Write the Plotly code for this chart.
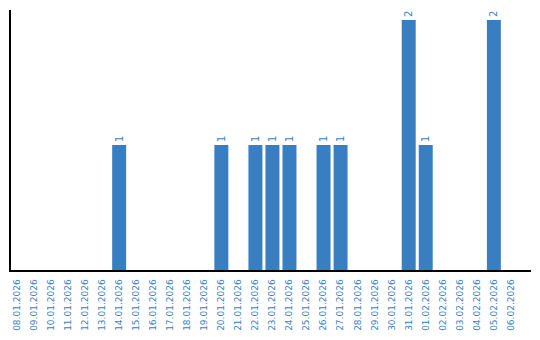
import plotly.graph_objects as go

dates = ["08.01.2026", "09.01.2026", "10.01.2026", "11.01.2026", "12.01.2026",
         "13.01.2026", "14.01.2026", "15.01.2026", "16.01.2026", "17.01.2026",
         "18.01.2026", "19.01.2026", "20.01.2026", "21.01.2026", "22.01.2026",
         "23.01.2026", "24.01.2026", "25.01.2026", "26.01.2026", "27.01.2026",
         "28.01.2026", "29.01.2026", "30.01.2026", "31.01.2026", "01.02.2026",
         "02.02.2026", "03.02.2026", "04.02.2026", "05.02.2026", "06.02.2026"]
counts = [0, 0, 0, 0, 0, 0, 1, 0, 0, 0, 0, 0, 1, 0, 1, 1, 1, 0, 1, 1,
          0, 0, 0, 2, 1, 0, 0, 0, 2, 0]

color = "#3a7ec2"
font_family = "DejaVu Sans"
texts = [str(v) if v > 0 else "" for v in counts]

fig = go.Figure(go.Bar(
    x=list(range(len(dates))), y=counts,
    marker=dict(color=color, line=dict(width=0)),
    width=0.82,
    text=texts, textposition="outside", textangle=-90,
    textfont=dict(color=color, size=10, family=font_family),
    cliponaxis=False,
))

fig.update_layout(
    width=540, height=340,
    margin=dict(l=11, r=9, t=10, b=70, autoexpand=False),
    paper_bgcolor="white", plot_bgcolor="white",
    showlegend=False,
    font=dict(family=font_family),
    xaxis=dict(
        range=[-0.35, 30.18], automargin=False,
        tickmode="array", tickvals=list(range(len(dates))), ticktext=dates,
        tickangle=-90,
        tickfont=dict(color=color, size=9, family=font_family),
        showline=True, linecolor="black", linewidth=1.5,
        showgrid=False, zeroline=False, ticks="", ticklabelstandoff=4,
    ),
    yaxis=dict(
        range=[0, 2.08], automargin=False,
        showticklabels=False, showgrid=False, zeroline=False,
        showline=True, linecolor="black", linewidth=1.5, ticks="",
    ),
)

fig.write_html("out.html")
